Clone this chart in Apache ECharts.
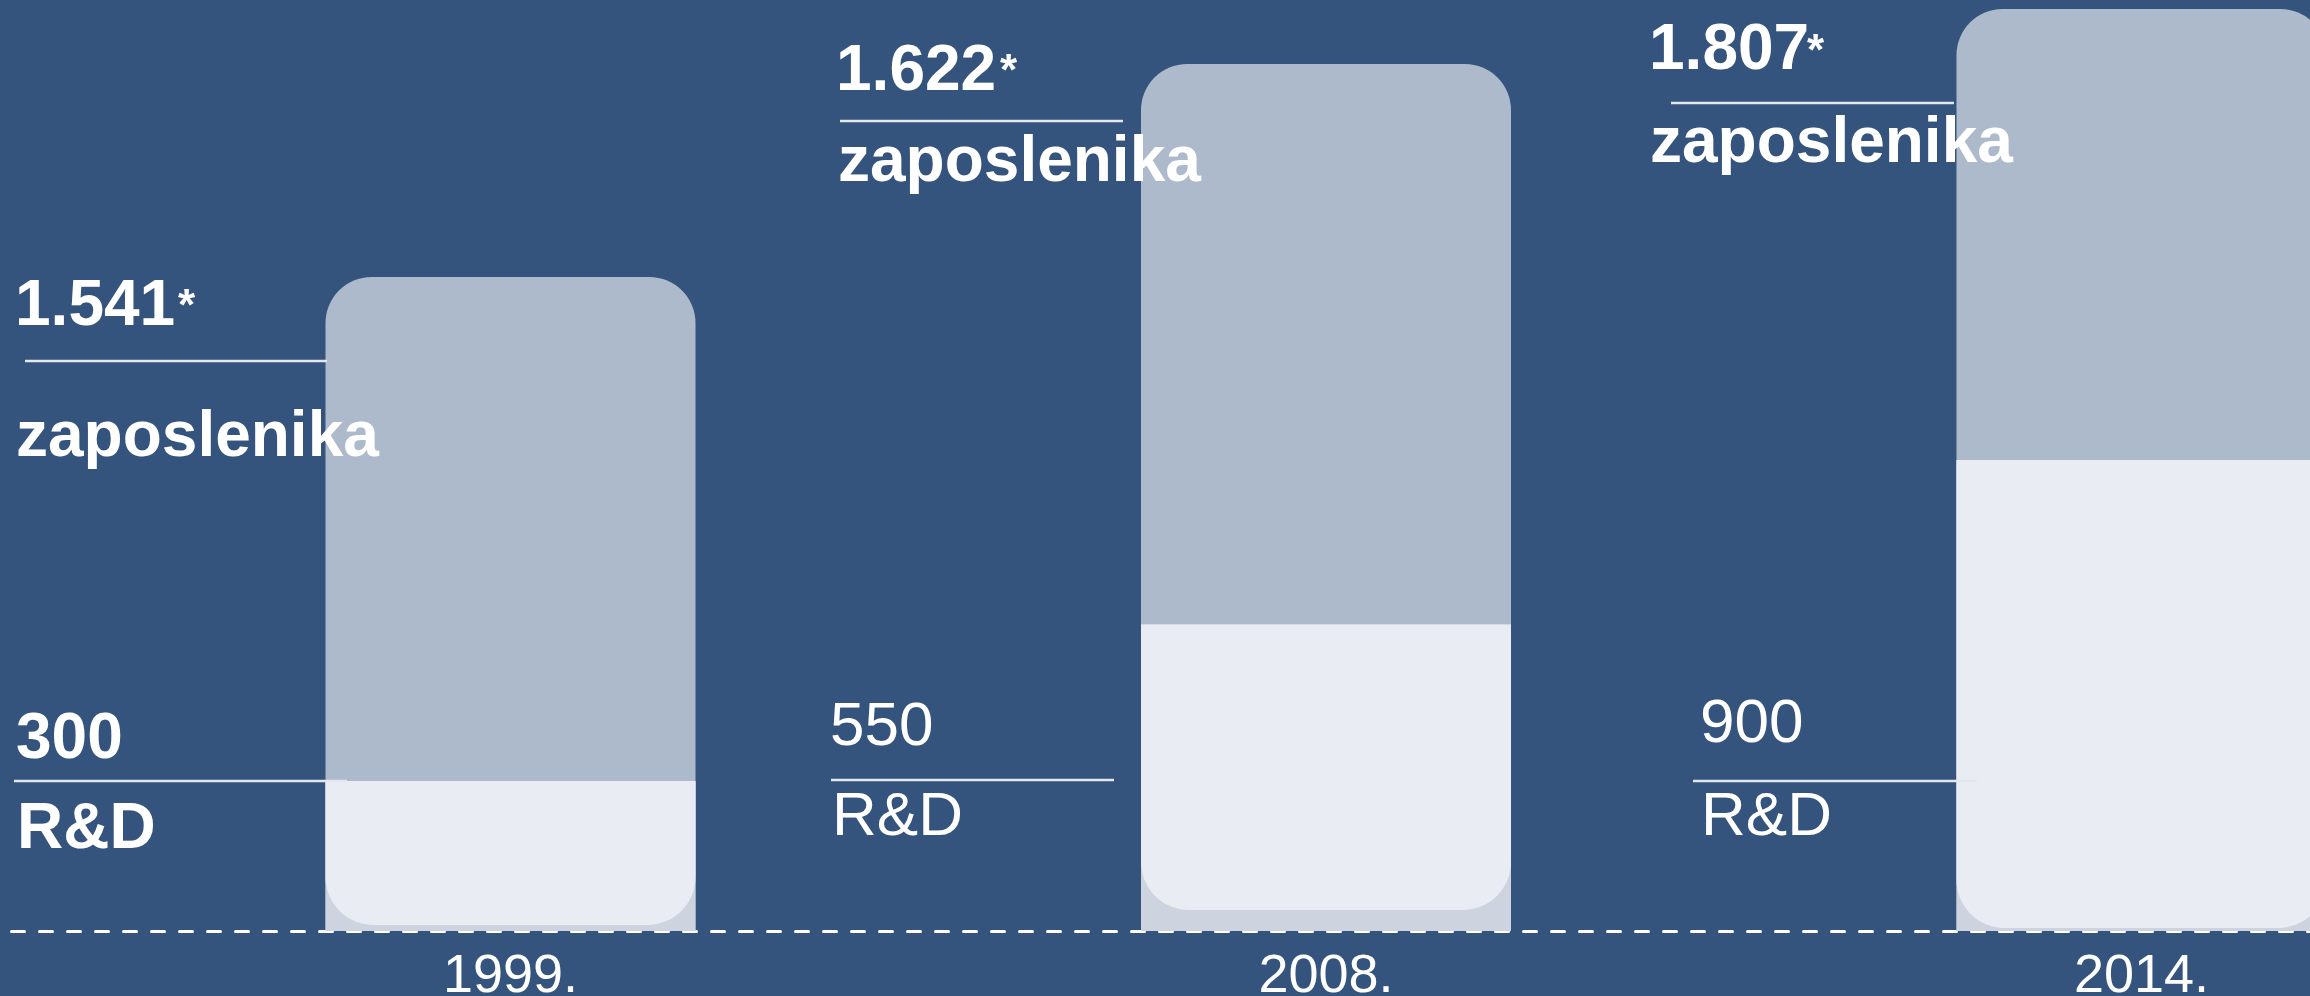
<!DOCTYPE html>
<html>
<head>
<meta charset="utf-8">
<script src="https://cdn.jsdelivr.net/npm/echarts@6/dist/echarts.min.js"></script>
<style>
  html, body { margin: 0; padding: 0; background: #34547d; }
  #chart { width: 2310px; height: 996px; }
</style>
</head>
<body>
<div id="chart"></div>
<script>
// Categories (x axis tick labels)
const categories = ['1999.', '2008.', '2014.'];
// Printed values
const totalLabels = ['1.541', '1.622', '1.807'];
const rdLabels = ['300', '550', '900'];
// Bar heights as drawn in the infographic (it is not drawn to scale)
const totalBarHeight = [1308, 1734, 1844];
const rdBarHeight = [300, 613, 942];
const rdBarBaseGap = [12, 42, 6];

const FONT = '"Liberation Sans", Arial, sans-serif';
const chart = echarts.init(document.getElementById('chart'));

const rdRounded = rdBarHeight.map((v, i) => v - rdBarBaseGap[i]);

// annotation layout (position / style only)
const annLayout = [
  { big: {x: 15, y: 307}, star: {x: 178, y: 308}, word: {x: 16, y: 438}, line1: [25, 361, 327],
    small: {x: 16, y: 740}, rd: {x: 17, y: 830}, line2: [14, 781, 347], boldLower: true },
  { big: {x: 836, y: 72}, star: {x: 1000, y: 73}, word: {x: 838, y: 163}, line1: [840, 121, 1123],
    small: {x: 830, y: 728}, rd: {x: 832, y: 818}, line2: [831, 780, 1114], boldLower: false },
  { big: {x: 1649, y: 51}, star: {x: 1807, y: 53}, word: {x: 1650, y: 144}, line1: [1671, 103, 1954],
    small: {x: 1700, y: 725}, rd: {x: 1701, y: 818}, line2: [1693, 781, 1977], boldLower: false }
];

const graphics = [];
annLayout.forEach((L, i) => {
  const txt = (t, p, font) => ({
    type: 'text', x: p.x, y: p.y, z: 100,
    style: { text: t, fill: '#ffffff', font: font, textVerticalAlign: 'middle', verticalAlign: 'middle' }
  });
  const line = (a) => ({
    type: 'line', z: 100,
    shape: { x1: a[0], y1: a[1], x2: a[2], y2: a[1] },
    style: { stroke: '#e3e8f0', lineWidth: 2.5 }
  });
  graphics.push(txt(totalLabels[i], L.big, 'bold 64px ' + FONT));
  graphics.push(txt('*', L.star, 'bold 44px ' + FONT));
  graphics.push(line(L.line1));
  graphics.push(txt('zaposlenika', L.word, 'bold 64px ' + FONT));
  const lowerFont = L.boldLower ? 'bold 64px ' + FONT : '62px ' + FONT;
  graphics.push(txt(rdLabels[i], L.small, lowerFont));
  graphics.push(line(L.line2));
  graphics.push(txt('R&D', L.rd, lowerFont));
});

const barW = 370;
const option = {
  backgroundColor: '#34547d',
  animation: false,
  grid: [
    { left: 102.75, right: -239.25, bottom: 65, top: 1, containLabel: false, outerBoundsMode: 'none' },
    { left: 0, right: 0, bottom: 65, top: 1, containLabel: false, outerBoundsMode: 'none' }
  ],
  xAxis: [
    {
      type: 'category', gridIndex: 0, data: categories,
      axisLine: { show: false }, axisTick: { show: false },
      axisLabel: { color: '#ffffff', fontSize: 54, fontFamily: FONT, margin: 19 }
    },
    {
      type: 'value', gridIndex: 1, min: 0, max: 1,
      axisLine: { show: true, onZero: false, lineStyle: { color: '#ffffff', width: 3, type: [13, 15], dashOffset: 16.5, cap: 'round' } },
      axisTick: { show: false }, axisLabel: { show: false }, splitLine: { show: false }
    }
  ],
  yAxis: [
    { type: 'value', gridIndex: 0, min: 0, max: 1860, show: false, splitLine: { show: false } },
    { type: 'value', gridIndex: 1, min: 0, max: 1, show: false, splitLine: { show: false } }
  ],
  series: [
    {
      name: 'zaposlenika', type: 'bar', barWidth: barW, barGap: '-100%', z: 1,
      data: totalBarHeight,
      itemStyle: { color: '#adbacb', borderRadius: [46, 46, 0, 0] }
    },
    {
      name: 'R&D podloga', type: 'bar', barWidth: barW, barGap: '-100%', z: 2,
      data: rdBarHeight,
      itemStyle: { color: '#cdd4e0' }
    },
    {
      name: 'base', type: 'bar', stack: 'rd', barWidth: barW, barGap: '-100%', z: 3,
      data: rdBarBaseGap,
      itemStyle: { color: 'transparent' }
    },
    {
      name: 'R&D', type: 'bar', stack: 'rd', barWidth: barW, barGap: '-100%', z: 3,
      data: rdRounded,
      itemStyle: { color: '#e9edf3', borderRadius: [0, 0, 48, 48] }
    }
  ],
  graphic: graphics
};
chart.setOption(option);
</script>
</body>
</html>
